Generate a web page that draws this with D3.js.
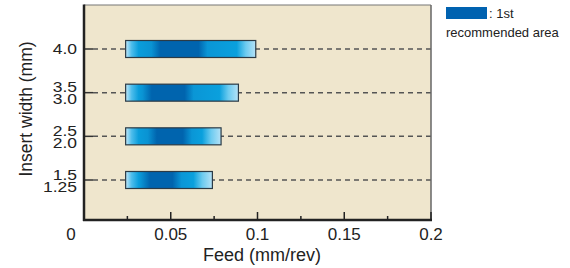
<!DOCTYPE html>
<html>
<head>
<meta charset="utf-8">
<script src="https://cdn.jsdelivr.net/npm/d3@7"></script>
<style>
  body { margin: 0; background: #fff; }
  text { font-family: "Liberation Sans", Arial, sans-serif; fill: #222; }
</style>
</head>
<body>
<svg id="chart" width="570" height="268"></svg>
<script>
// rows (top to bottom): upper / lower width label
const upperLabels = ['4.0', '3.5', '2.5', '1.5'];
const lowerLabels = ['', '3.0', '2.0', '1.25'];
// recommended feed range (mm/rev)
const feedMin = [0.024, 0.024, 0.024, 0.024];
const feedMax = [0.099, 0.089, 0.079, 0.074];
// darkest part of each bar
const darkStart = [0.044, 0.039, 0.042, 0.038];
const darkEnd = [0.066, 0.058, 0.057, 0.051];
const xTicks = [0, 0.05, 0.1, 0.15, 0.2];
const xMinorTicks = [0.025, 0.075, 0.125, 0.175];

const svg = d3.select('#chart');
const plotL = 84, plotR = 431, plotT = 5, plotB = 220;

const x = d3.scaleLinear().domain([0, 0.2]).range([plotL, plotR]);
const y = d3.scaleLinear().domain([0, 3]).range([49, 180]);

// plot background
svg.append('rect')
  .attr('x', plotL).attr('y', plotT)
  .attr('width', plotR - plotL).attr('height', plotB - plotT)
  .attr('fill', '#efe6cd');

// gradients, light at the ends and darkest in the middle
const defs = svg.append('defs');
upperLabels.forEach((lab, i) => {
  const x0 = x(feedMin[i]), x1 = x(feedMax[i]), w = x1 - x0;
  const off = v => Math.max(0, Math.min(1, (x(v) - x0) / w));
  const g = defs.append('linearGradient')
    .attr('id', 'grad' + i)
    .attr('x1', '0').attr('x2', '1').attr('y1', '0').attr('y2', '0');
  const ds = off(darkStart[i]), de = off(darkEnd[i]);
  const stops = [
    [0, '#c2e8fa'],
    [6 / w, '#4dbdec'],
    [13 / w, '#0a9ddb'],
    [ds - 9 / w, '#0a93d3'],
    [ds, '#0064ae'],
    [de, '#0064ae'],
    [de + 9 / w, '#0a96d6'],
    [1 - 19 / w, '#0aa0dd'],
    [1 - 10 / w, '#6ccbf0'],
    [1, '#b6e2f7']
  ];
  g.selectAll('stop').data(stops).enter().append('stop')
    .attr('offset', d => d[0])
    .attr('stop-color', d => d[1]);
});

// dashed grid lines with short solid tick
upperLabels.forEach((lab, i) => {
  svg.append('line')
    .attr('x1', plotL).attr('x2', plotL + 9)
    .attr('y1', y(i)).attr('y2', y(i))
    .attr('stroke', '#333').attr('stroke-width', 1.5);
  svg.append('line')
    .attr('x1', plotL + 9).attr('x2', plotR)
    .attr('y1', y(i)).attr('y2', y(i))
    .attr('stroke', '#555').attr('stroke-width', 1.5)
    .attr('stroke-dasharray', '5,4');
});

// bars
svg.selectAll('.bar')
  .data(upperLabels)
  .enter().append('rect')
  .attr('class', 'bar')
  .attr('x', (d, i) => x(feedMin[i]))
  .attr('width', (d, i) => x(feedMax[i]) - x(feedMin[i]))
  .attr('y', (d, i) => y(i) - 8.5)
  .attr('height', 17)
  .attr('fill', (d, i) => `url(#grad${i})`)
  .attr('stroke', '#2b3a45').attr('stroke-width', 1.2);

// frame
svg.append('line').attr('x1', plotL).attr('x2', plotR).attr('y1', plotT).attr('y2', plotT)
  .attr('stroke', '#777').attr('stroke-width', 1.2);
svg.append('line').attr('x1', plotR).attr('x2', plotR).attr('y1', plotT).attr('y2', plotB)
  .attr('stroke', '#666').attr('stroke-width', 1.5);
svg.append('line').attr('x1', plotL).attr('x2', plotL).attr('y1', plotT - 0.5).attr('y2', plotB + 1)
  .attr('stroke', '#222').attr('stroke-width', 2.5);
svg.append('line').attr('x1', plotL - 1).attr('x2', plotR + 1).attr('y1', plotB).attr('y2', plotB)
  .attr('stroke', '#222').attr('stroke-width', 2.5);

// x ticks (pointing inward)
svg.selectAll('.major').data(xTicks.slice(1)).enter().append('line')
  .attr('x1', d => x(d)).attr('x2', d => x(d))
  .attr('y1', plotB).attr('y2', plotB - 8)
  .attr('stroke', '#222').attr('stroke-width', 1.5);
svg.selectAll('.minor').data(xMinorTicks).enter().append('line')
  .attr('x1', d => x(d)).attr('x2', d => x(d))
  .attr('y1', plotB).attr('y2', plotB - 4)
  .attr('stroke', '#222').attr('stroke-width', 1.5);

svg.selectAll('.xlab').data(xTicks).enter().append('text')
  .attr('x', d => d === 0 ? x(d) - 13 : x(d))
  .attr('y', 240)
  .attr('text-anchor', 'middle')
  .style('font-size', '17px')
  .text(d => d3.format('')(d));

// y labels (slightly squeezed vertically like the original)
function yLabel(txt, by) {
  svg.append('text')
    .attr('transform', `translate(77,${by}) scale(1,0.85)`)
    .attr('text-anchor', 'end').style('font-size', '17.5px').text(txt);
}
upperLabels.forEach((lab, i) => {
  if (lowerLabels[i] === '') {
    yLabel(lab, y(i) + 4.5);
  } else {
    yLabel(lab, y(i) - 0.5);
    yLabel(lowerLabels[i], y(i) + 11.5);
  }
});

// axis titles
svg.append('text')
  .attr('transform', 'translate(32,109) rotate(-90)')
  .attr('text-anchor', 'middle')
  .style('font-size', '17.5px')
  .text('Insert width (mm)');
svg.append('text')
  .attr('x', 262).attr('y', 261)
  .attr('text-anchor', 'middle')
  .style('font-size', '18px')
  .text('Feed (mm/rev)');

// legend
svg.append('rect').attr('x', 446).attr('y', 7).attr('width', 41).attr('height', 12)
  .attr('fill', '#0062b0');
svg.append('text').attr('x', 489).attr('y', 18).style('font-size', '13px').text(': 1st');
svg.append('text').attr('x', 446).attr('y', 37).style('font-size', '13px').text('recommended area');
</script>
</body>
</html>
